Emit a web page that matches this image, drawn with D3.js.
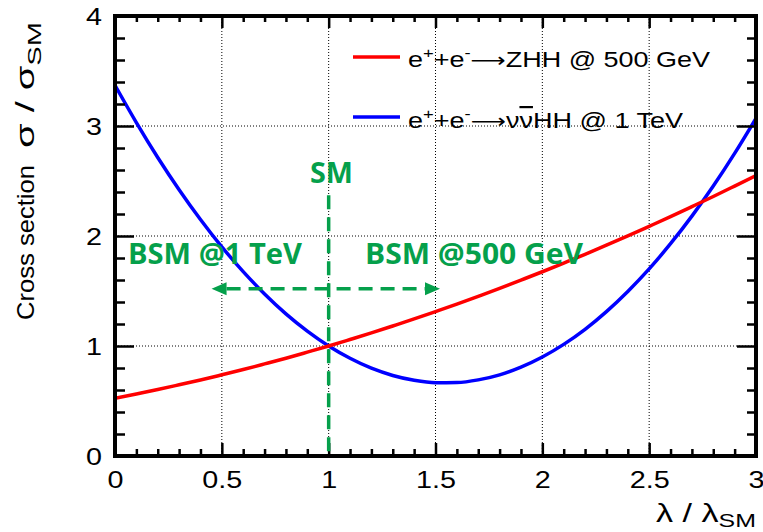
<!DOCTYPE html>
<html>
<head>
<meta charset="utf-8">
<script src="https://cdn.jsdelivr.net/npm/d3@7"></script>
<style>
  html, body { margin: 0; padding: 0; background: #fff; }
  svg { display: block; }
</style>
</head>
<body>
<svg id="chart" width="763" height="532"></svg>
<script>
// ---------------- data ----------------
const lambda = [0.0,0.1,0.2,0.3,0.4,0.5,0.6,0.7,0.8,0.9,1.0,1.1,1.2,1.3,1.4,1.5,1.6,1.7,1.8,1.9,2.0,2.1,2.2,2.3,2.4,2.5,2.6,2.7,2.8,2.9,3.0];
const sigmaZHH500 = [0.525,0.564,0.604,0.647,0.691,0.738,0.786,0.837,0.889,0.944,1.000,1.059,1.119,1.182,1.246,1.313,1.381,1.452,1.524,1.599,1.675,1.754,1.834,1.917,2.001,2.088,2.176,2.267,2.359,2.454,2.550];
const sigmaVVHH1T = [3.370,3.031,2.714,2.421,2.150,1.901,1.676,1.473,1.292,1.135,1.000,0.888,0.798,0.732,0.688,0.666,0.668,0.692,0.738,0.808,0.900,1.015,1.152,1.313,1.496,1.701,1.930,2.181,2.454,2.751,3.070];
const seriesNames = ["ZHH @ 500 GeV", "HH @ 1 TeV"];
const xTickValues = [0,0.5,1,1.5,2,2.5,3];
const xTickLabels = ["0","0.5","1","1.5","2","2.5","3"];
const yTickValues = [0,1,2,3,4];
const yTickLabels = ["0","1","2","3","4"];
// annotation anchors (data units)
const smLambda = 1.0;
const smLineTop = 2.37;
const arrowLevel = 1.52;
const arrowRange = [0.452, 1.521];

// ---------------- layout ----------------
const svg = d3.select("#chart");
const L = 115, R = 756, T = 16, B = 456;
const x = d3.scaleLinear().domain([0,3]).range([L,R]);
const y = d3.scaleLinear().domain([0,4]).range([B,T]);
const green = "#05a04b";
const stretchX = 1.2;

function stretch(sel, f) {
  sel.each(function() {
    const len = this.getComputedTextLength();
    this.setAttribute("textLength", (len * f).toFixed(1));
    this.setAttribute("lengthAdjust", "spacingAndGlyphs");
  });
}

// grid (dotted)
const grid = svg.append("g").attr("stroke", "#000").attr("stroke-width", 1).attr("stroke-dasharray", "1,2");
grid.selectAll("line.gx").data(xTickValues.filter(v => v > 0 && v < 3)).join("line")
  .attr("x1", d => x(d)).attr("x2", d => x(d)).attr("y1", T).attr("y2", B);
grid.selectAll("line.gy").data(yTickValues.filter(v => v > 0 && v < 4)).join("line")
  .attr("y1", d => y(d)).attr("y2", d => y(d)).attr("x1", L).attr("x2", R);

// curves
svg.append("clipPath").attr("id", "plotclip").append("rect")
  .attr("x", L).attr("y", T).attr("width", R - L).attr("height", B - T);
const line = d3.line().x(d => x(d[0])).y(d => y(d[1])).curve(d3.curveMonotoneX);
const curves = svg.append("g").attr("clip-path", "url(#plotclip)");
curves.append("path").datum(lambda.map((l, i) => [l, sigmaVVHH1T[i]]))
  .attr("d", line).attr("fill", "none").attr("stroke", "#0000ff").attr("stroke-width", 3.5);
curves.append("path").datum(lambda.map((l, i) => [l, sigmaZHH500[i]]))
  .attr("d", line).attr("fill", "none").attr("stroke", "#ff0000").attr("stroke-width", 3.5);

// axes: ticks inside on all four sides
function styleAxis(g) {
  g.select(".domain").remove();
  g.selectAll(".tick line").attr("stroke", "#000").attr("stroke-width", 2.5);
}
const tickFont = "'Liberation Sans', Arial, Helvetica, sans-serif";
const isMinorX = v => Math.abs(v * 2 - Math.round(v * 2)) > 1e-6;
const isMinorY = v => Math.abs(v - Math.round(v)) > 1e-6;

// bottom
const xb = svg.append("g").attr("transform", `translate(0,${B})`)
  .call(d3.axisBottom(x).tickValues(xTickValues).tickSize(-13).tickFormat((d, i) => xTickLabels[i]));
styleAxis(xb);
xb.selectAll(".tick text").attr("y", 32).attr("dy", 0).attr("fill", "#000")
  .attr("font-family", tickFont).attr("font-size", 24);
stretch(xb.selectAll(".tick text"), stretchX);
const xbm = svg.append("g").attr("transform", `translate(0,${B})`)
  .call(d3.axisBottom(x).tickValues(x.ticks(30).filter(isMinorX)).tickSize(-7).tickFormat(""));
styleAxis(xbm);
// top
const xt = svg.append("g").attr("transform", `translate(0,${T})`)
  .call(d3.axisTop(x).tickValues(xTickValues).tickSize(-12).tickFormat(""));
styleAxis(xt);
const xtm = svg.append("g").attr("transform", `translate(0,${T})`)
  .call(d3.axisTop(x).tickValues(x.ticks(30).filter(isMinorX)).tickSize(-6).tickFormat(""));
styleAxis(xtm);
// left
const yl = svg.append("g").attr("transform", `translate(${L},0)`)
  .call(d3.axisLeft(y).tickValues(yTickValues).tickSize(-19).tickFormat((d, i) => yTickLabels[i]));
styleAxis(yl);
yl.selectAll(".tick text").attr("x", -13).attr("dy", "0.36em").attr("fill", "#000")
  .attr("font-family", tickFont).attr("font-size", 24).attr("text-anchor", "end");
stretch(yl.selectAll(".tick text"), stretchX);
const ylm = svg.append("g").attr("transform", `translate(${L},0)`)
  .call(d3.axisLeft(y).tickValues(y.ticks(20).filter(isMinorY)).tickSize(-10).tickFormat(""));
styleAxis(ylm);
// right
const yr = svg.append("g").attr("transform", `translate(${R},0)`)
  .call(d3.axisRight(y).tickValues(yTickValues).tickSize(-19).tickFormat(""));
styleAxis(yr);
const yrm = svg.append("g").attr("transform", `translate(${R},0)`)
  .call(d3.axisRight(y).tickValues(y.ticks(20).filter(isMinorY)).tickSize(-9).tickFormat(""));
styleAxis(yrm);

// frame
svg.append("rect").attr("x", L).attr("y", T).attr("width", R - L).attr("height", B - T)
  .attr("fill", "none").attr("stroke", "#000").attr("stroke-width", 4);

// axis titles
const xTitle = svg.append("text").attr("x", R).attr("y", 522).attr("text-anchor", "end")
  .attr("font-family", tickFont).attr("font-size", 26).attr("fill", "#000")
  .attr("textLength", 100).attr("lengthAdjust", "spacingAndGlyphs");
xTitle.append("tspan").text("\u03bb / \u03bb");
xTitle.append("tspan").attr("dy", 5).attr("font-size", 19).text("SM");

// y title: "Cross section   σ / σ_SM" (two runs so the wide gap matches)
const yTitleA = svg.append("text").attr("transform", "translate(34,320) rotate(-90)")
  .attr("font-family", tickFont).attr("font-size", 24).attr("fill", "#000")
  .attr("textLength", 155).attr("lengthAdjust", "spacingAndGlyphs")
  .text("Cross section");
const yTitleB = svg.append("text").attr("transform", "translate(34,22) rotate(-90)")
  .attr("text-anchor", "end")
  .attr("font-family", tickFont).attr("font-size", 26).attr("fill", "#000")
  .attr("textLength", 126).attr("lengthAdjust", "spacingAndGlyphs");
yTitleB.append("tspan").text("\u03c3 / \u03c3");
yTitleB.append("tspan").attr("dy", 7).attr("font-size", 19).text("SM");

// legend
const legFont = tickFont;
function legendEntry(yLine, yBase, color, parts, width) {
  svg.append("line").attr("x1", 353).attr("x2", 400).attr("y1", yLine).attr("y2", yLine)
    .attr("stroke", color).attr("stroke-width", 3.5);
  const t = svg.append("text").attr("x", 408).attr("y", yBase)
    .attr("font-family", legFont).attr("font-size", 22).attr("fill", "#000");
  parts.forEach(p => {
    const s = t.append("tspan").text(p.t);
    if (p.dy) s.attr("dy", p.dy);
    if (p.fs) s.attr("font-size", p.fs);
    if (p.ff) s.attr("font-family", p.ff);
    if (p.over) s.style("text-decoration", "overline");
  });
  t.attr("textLength", width).attr("lengthAdjust", "spacingAndGlyphs");
}
const arrowFont = "'DejaVu Sans', sans-serif";
legendEntry(57, 67, "#ff0000", [
  {t: "e"}, {t: "+", dy: -9, fs: 15}, {t: "+e", dy: 9}, {t: "-", dy: -9, fs: 15},
  {t: "\u27f6", dy: 9, ff: arrowFont, fs: 20}, {t: seriesNames[0]}
], 302);
legendEntry(117, 128, "#0000ff", [
  {t: "e"}, {t: "+", dy: -9, fs: 15}, {t: "+e", dy: 9}, {t: "-", dy: -9, fs: 15},
  {t: "\u27f6", dy: 9, ff: arrowFont, fs: 20}, {t: "\u03bd"}, {t: "\u03bd", over: true}, {t: seriesNames[1]}
], 275);

// green annotations
const ann = svg.append("g");
ann.append("line").attr("x1", x(smLambda)).attr("x2", x(smLambda))
  .attr("y1", y(smLineTop)).attr("y2", y(0))
  .attr("stroke", green).attr("stroke-width", 3.5).attr("stroke-dasharray", "14,8");
const ax1 = x(arrowRange[0]), ax2 = x(arrowRange[1]), ay = y(arrowLevel);
const headL = 15, headH = 6.5;
ann.append("line").attr("x1", ax1 + headL).attr("x2", ax2 - headL).attr("y1", ay).attr("y2", ay)
  .attr("stroke", green).attr("stroke-width", 3.5).attr("stroke-dasharray", "14,8");
ann.append("path").attr("d", `M${ax1},${ay} L${ax1 + headL},${ay - headH} L${ax1 + headL},${ay + headH} Z`).attr("fill", green);
ann.append("path").attr("d", `M${ax2},${ay} L${ax2 - headL},${ay - headH} L${ax2 - headL},${ay + headH} Z`).attr("fill", green);

const gFont = "'Open Sans', Lato, sans-serif";
ann.append("text").attr("x", 331.5).attr("y", 183).attr("text-anchor", "middle")
  .attr("font-family", gFont).attr("font-weight", 700).attr("font-size", 28).attr("fill", green)
  .attr("textLength", 43).attr("lengthAdjust", "spacingAndGlyphs").text("SM");
ann.append("text").attr("x", 128).attr("y", 264)
  .attr("font-family", gFont).attr("font-weight", 700).attr("font-size", 28).attr("fill", green)
  .attr("textLength", 174).attr("lengthAdjust", "spacingAndGlyphs").text("BSM @1 TeV");
ann.append("text").attr("x", 365).attr("y", 264)
  .attr("font-family", gFont).attr("font-weight", 700).attr("font-size", 28).attr("fill", green)
  .attr("textLength", 218).attr("lengthAdjust", "spacingAndGlyphs").text("BSM @500 GeV");
</script>
</body>
</html>
